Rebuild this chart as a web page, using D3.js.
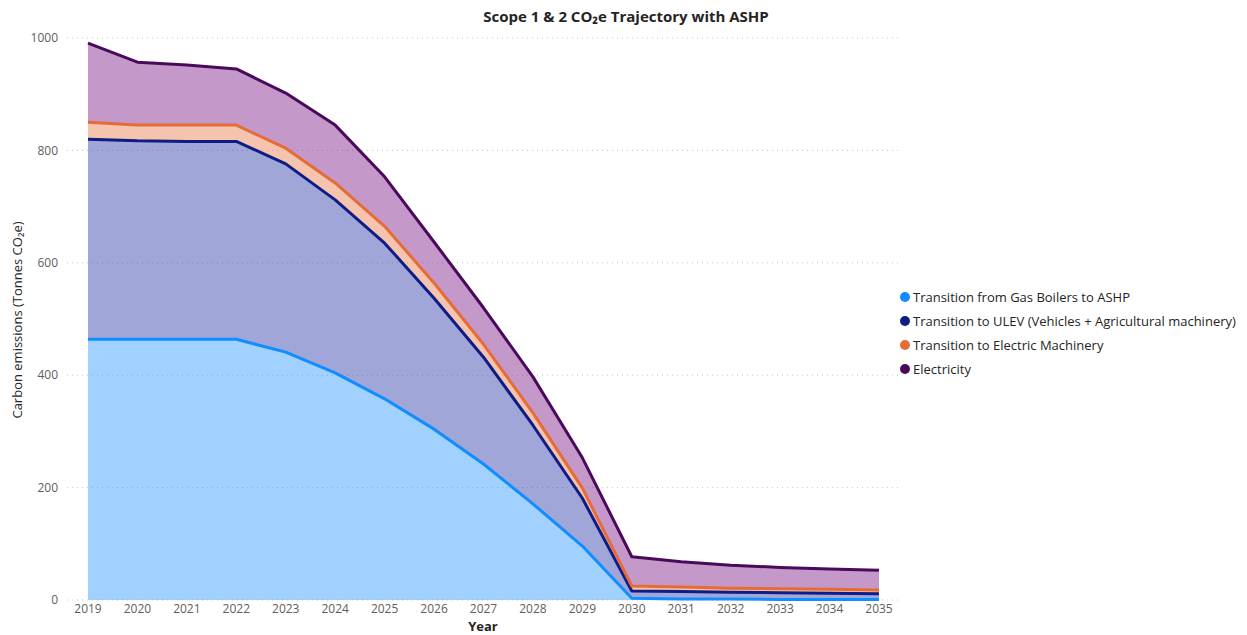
<!DOCTYPE html>
<html>
<head>
<meta charset="utf-8">
<script src="https://cdn.jsdelivr.net/npm/d3@7"></script>
<style>
  body { margin: 0; background: #fff; font-family: "Open Sans", "Noto Sans", sans-serif; }
  svg text { font-family: "Open Sans", "Noto Sans", sans-serif; }
</style>
</head>
<body>
<div id="chart"></div>
<script>
// years on the x axis
const years = [2019, 2020, 2021, 2022, 2023, 2024, 2025, 2026, 2027, 2028, 2029, 2030, 2031, 2032, 2033, 2034, 2035];

// tonnes CO2e per series
const gasBoilers = [464, 464, 464, 464, 441, 404, 358, 304, 242, 171, 96, 3, 2, 2, 1, 1, 1];
const ulev = [356, 353, 352, 352, 335, 308, 277, 233, 190, 140, 85, 13, 13, 12, 12, 11, 10];
const machinery = [30, 28, 29, 29, 28, 30, 30, 27, 23, 22, 18, 9, 8, 7, 7, 7, 7];
const electricity = [141, 112, 107, 100, 98, 103, 88, 73, 65, 64, 54, 52, 45, 41, 38, 36, 35];

const seriesNames = [
  'Transition from Gas Boilers to ASHP',
  'Transition to ULEV (Vehicles + Agricultural machinery)',
  'Transition to Electric Machinery',
  'Electricity'
];
const seriesColors = ['#118DFF', '#12239E', '#E66C37', '#6B007B'];
// outlines are drawn a bit darker than the fills
const lineColors = ['#118DFF', '#0E1C86', '#E66C37', '#4A0A5C'];
const yTicks = [0, 200, 400, 600, 800, 1000];

const width = 1247, height = 635;
const margin = { top: 38, right: 368, bottom: 35, left: 88 };

const svg = d3.select('#chart').append('svg')
  .attr('width', width)
  .attr('height', height);

const rows = years.map((y, i) => ({
  year: y,
  s0: gasBoilers[i],
  s1: ulev[i],
  s2: machinery[i],
  s3: electricity[i]
}));
const keys = ['s0', 's1', 's2', 's3'];
const stacked = d3.stack().keys(keys)(rows);

const x = d3.scaleLinear()
  .domain([2019, 2035])
  .range([margin.left, width - margin.right]);
const y = d3.scaleLinear()
  .domain([0, 1000])
  .range([height - margin.bottom, margin.top]);

// gridlines
svg.append('g')
  .selectAll('line')
  .data(yTicks)
  .join('line')
  .attr('x1', 67)
  .attr('x2', 898)
  .attr('y1', d => y(d))
  .attr('y2', d => y(d))
  .attr('stroke', '#c8c8c8')
  .attr('stroke-width', 1)
  .attr('stroke-dasharray', '1,4');

// y tick labels
svg.append('g')
  .selectAll('text')
  .data(yTicks)
  .join('text')
  .attr('x', 58)
  .attr('y', d => y(d))
  .attr('dy', '0.35em')
  .attr('text-anchor', 'end')
  .attr('font-size', 12)
  .attr('fill', '#605E5C')
  .text(d => d);

// x tick labels
svg.append('g')
  .selectAll('text')
  .data(years)
  .join('text')
  .attr('x', d => x(d))
  .attr('y', 613)
  .attr('text-anchor', 'middle')
  .attr('font-size', 12)
  .attr('fill', '#605E5C')
  .text(d => d);

const area = d3.area()
  .x(d => x(d.data.year))
  .y0(d => y(d[0]))
  .y1(d => y(d[1]));

const line = d3.line()
  .x(d => x(d.data.year))
  .y(d => y(d[1]));

svg.append('g')
  .selectAll('path')
  .data(stacked)
  .join('path')
  .attr('d', area)
  .attr('fill', (d, i) => seriesColors[i])
  .attr('fill-opacity', 0.4);

svg.append('g')
  .selectAll('path')
  .data(stacked)
  .join('path')
  .attr('d', line)
  .attr('fill', 'none')
  .attr('stroke', (d, i) => lineColors[i])
  .attr('stroke-width', 3)
  .attr('stroke-linejoin', 'round');

// title
svg.append('text')
  .attr('x', 626)
  .attr('y', 22)
  .attr('text-anchor', 'middle')
  .attr('font-size', 15)
  .attr('font-weight', 'bold')
  .attr('fill', '#252423')
  .text('Scope 1 & 2 CO₂e Trajectory with ASHP');

// axis titles
svg.append('text')
  .attr('x', 483)
  .attr('y', 631)
  .attr('text-anchor', 'middle')
  .attr('font-size', 13)
  .attr('font-weight', 'bold')
  .attr('fill', '#252423')
  .text('Year');

svg.append('text')
  .attr('transform', 'translate(22,320) rotate(-90)')
  .attr('text-anchor', 'middle')
  .attr('font-size', 13)
  .attr('fill', '#252423')
  .text('Carbon emissions (Tonnes CO₂e)');

// legend
const legend = svg.append('g')
  .selectAll('g')
  .data(seriesNames)
  .join('g')
  .attr('transform', (d, i) => `translate(905,${297 + i * 24})`);

legend.append('circle')
  .attr('r', 5)
  .attr('fill', (d, i) => lineColors[i]);

legend.append('text')
  .attr('x', 8)
  .attr('dy', '0.35em')
  .attr('font-size', 13)
  .attr('fill', '#252423')
  .text(d => d);
</script>
</body>
</html>
